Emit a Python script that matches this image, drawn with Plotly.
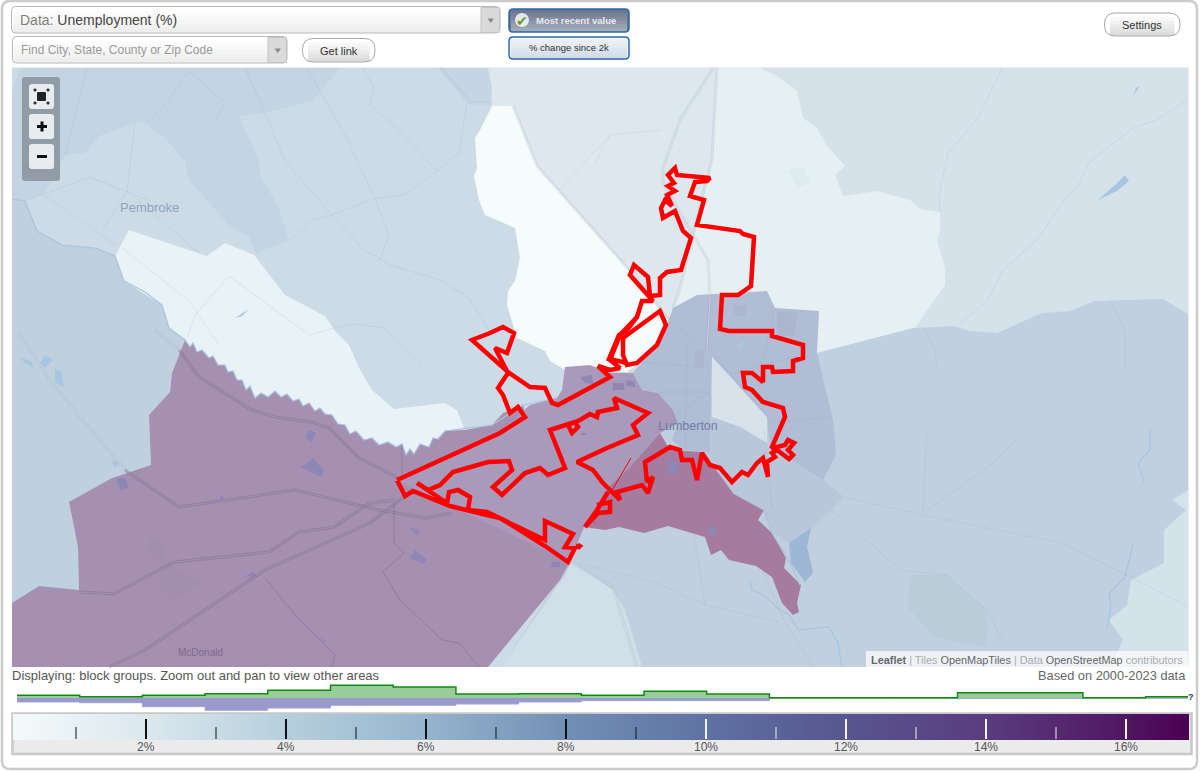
import numpy as np
import plotly.graph_objects as go

# page is laid out in screen pixels on the main axes, the histogram and
# colour ramp use a second pair of axes in percent units
PAGE_W = 1200
PAGE_H = 771
FONT = "Liberation Sans, Arial, sans-serif"

# ---------- histogram / legend data ----------
bin_edges_px = [17, 79.7, 142.4, 205.1, 267.8, 330.5, 393.2, 455.9, 518.6, 581.3, 644,
                706.7, 769.4, 832.1, 894.8, 957.5, 1020.2, 1082.9, 1145.6, 1188]
hist_edges = [(v - 6) / 70 for v in bin_edges_px]
hist_green = [2.7, 1.3, 2.7, 4.3, 7.7, 12.7, 11, 4, 4.3, 2.7, 6.7, 4, 0.3, 0.3, 0.3, 5.3, 5.3, 0.3, 1.3]
hist_purple = [4, 4.7, 8.7, 12.3, 10, 7.3, 7.3, 6, 4, 2.7, 2.7, 2.7, 0.3, 0.3, 0.3, 0.6, 0.6, 0.3, 0.3]
major_ticks = [2, 4, 6, 8, 10, 12, 14, 16]
minor_ticks = [1, 3, 5, 7, 9, 11, 13, 15]
tick_labels = ["2%", "4%", "6%", "8%", "10%", "12%", "14%", "16%"]
ramp_stops = [0.1, 2, 4, 6, 8, 10, 12, 14, 16, 16.9]
ramp_colors = ["#f4fafb", "#dbe8ee", "#b6cfdd", "#96b4cd", "#7190b5",
               "#5f72a3", "#57558f", "#5a3c7f", "#501660", "#4b0050"]

# ---------- map outlines in pixels ----------
map_base = [(12, 67.5), (1188.5, 67.5), (1188.5, 667), (12, 667)]
purple_edge = [(185, 340), (190, 347), (193, 343), (197, 352), (202, 350), (209, 358), (213, 356), (218, 365),
               (225, 365), (228, 372), (233, 371), (237, 380), (242, 380), (246, 390), (250, 386), (255, 398),
               (261, 393), (268, 397), (275, 391), (281, 397), (287, 394), (293, 401), (299, 399), (303, 406),
               (309, 403), (315, 411), (320, 408), (325, 414), (332, 415), (338, 424), (345, 425), (350, 434),
               (356, 431), (364, 440), (372, 438), (379, 445), (388, 442), (396, 447), (402, 444), (406, 455),
               (410, 449), (414, 454), (420, 444), (429, 447), (433, 438), (438, 439), (445, 431)]
top_left_dark = [(20, 68), (340, 68), (312, 101), (265, 113), (239, 116), (259, 161), (260, 175), (279, 208),
                 (289, 241), (255, 253), (250, 238), (229, 225), (212, 206), (189, 181), (185, 161), (165, 138),
                 (145, 123), (135, 123), (99, 136), (85, 153), (65, 155), (45, 193), (25, 201), (12, 201), (12, 91)]
top_strip = [(440, 68), (488, 68), (492, 88), (490, 101), (492, 103), (470, 103)]
left_low = [(12, 199), (25, 201), (37, 231), (62, 245), (95, 248), (115, 256), (124, 281), (162, 305), (169, 328),
            (185, 340), (172, 373), (170, 392), (149, 415), (151, 465), (112, 478), (69, 502), (78, 547),
            (79, 590), (39, 586), (12, 603)]
pale_left = [(129, 230), (199, 253), (207, 256), (225, 243), (254, 255), (285, 295), (325, 316), (335, 331),
             (349, 345), (359, 368), (372, 390), (394, 409), (445, 403), (457, 410), (464, 428)] + purple_edge[::-1] + [
             (169, 328), (162, 305), (124, 281), (115, 256)]
top_mid = [(488, 68), (717, 68), (713, 158), (693, 238), (680, 285), (670, 321), (630, 271), (537, 166),
           (513, 106), (492, 106), (492, 88)]
white_mid = [(492, 106), (513, 106), (537, 166), (630, 271), (670, 321), (660, 348), (637, 365), (627, 372),
             (587, 368), (565, 370), (550, 361), (545, 351), (517, 338), (507, 305), (508, 291), (515, 281),
             (520, 258), (515, 228), (485, 215), (479, 200), (474, 176), (477, 168), (475, 138), (480, 130)]
top_right = [(717, 68), (1188, 68), (1188, 320), (817, 360), (670, 321), (680, 285), (693, 238), (713, 158)]
pale_mid = [(717, 68), (760, 68), (777, 76), (797, 91), (803, 118), (817, 128), (827, 146), (845, 166), (835, 175),
            (843, 196), (877, 191), (910, 200), (920, 209), (940, 212), (940, 231), (937, 241), (945, 268),
            (945, 285), (915, 328), (817, 353), (697, 300), (670, 321), (680, 285), (693, 238), (713, 158)]
right_low = [(501, 667), (560, 577), (600, 480), (700, 400), (817, 353), (913, 328), (953, 326), (970, 331),
             (997, 333), (1042, 313), (1070, 311), (1095, 301), (1163, 299), (1188, 314), (1188, 667)]
corner_light = [(1188, 490), (1172, 500), (1186, 510), (1164, 530), (1164, 563), (1131, 580), (1127, 605),
                (1109, 620), (1123, 640), (1111, 667), (1188, 667)]
south_light = [(501, 667), (565, 575), (572, 562), (613, 590), (625, 610), (642, 667)]
purple_main = purple_edge + [(465, 430), (492, 425), (503, 413), (523, 405), (570, 562), (560, 580), (488, 667),
                             (12, 667), (12, 603), (39, 586), (79, 590), (78, 547), (69, 502), (112, 478), (151, 465),
                             (149, 415), (170, 392), (172, 373)]
purple_light = [(397, 482), (500, 432), (530, 405), (557, 398), (562, 390), (565, 367), (590, 365), (610, 373),
                (633, 373), (642, 390), (658, 393), (673, 410), (678, 423), (660, 433), (630, 467), (607, 490),
                (584, 527), (570, 562), (410, 487)]
magenta = [(584, 527), (609, 487), (630, 467), (660, 433), (670, 450), (703, 452), (733, 493), (764, 510),
           (758, 520), (772, 533), (786, 558), (784, 568), (801, 585), (797, 603), (799, 612), (793, 615),
           (782, 603), (772, 577), (756, 566), (729, 560), (721, 550), (711, 555), (705, 537), (668, 526),
           (644, 533), (619, 527), (605, 530)]
lumberton = [(697, 295), (767, 291), (775, 308), (819, 311), (817, 353), (833, 420), (836, 455), (823, 480),
             (770, 447), (767, 417), (712, 357), (710, 452), (683, 450), (672, 440), (678, 423), (673, 410),
             (658, 393), (642, 390), (633, 373), (650, 352), (667, 325), (673, 308)]
lumberton_window = [(712, 357), (767, 417), (767, 443), (740, 427), (712, 417)]
lumberton_south = [(712, 417), (740, 427), (767, 443), (770, 447), (823, 480), (844, 497), (813, 528), (789, 543),
                   (772, 533), (764, 510), (733, 493), (703, 452), (710, 452)]

lake_south = [(811, 528), (789, 543), (791, 563), (805, 582), (813, 573), (811, 563), (807, 547)]
lakes = [[(19, 357), (32, 362), (34, 368), (25, 363)], [(45, 355), (53, 360), (45, 368), (40, 363)],
         [(55, 368), (62, 373), (64, 387), (55, 382)], [(1098, 200), (1115, 185), (1125, 175), (1129, 181), (1117, 191)],
         [(1133, 96), (1140, 86), (1136, 88)], [(235, 318), (249, 309), (242, 316)],
         [(111, 460), (120, 463), (115, 468)], [(737, 345), (745, 340), (742, 350)]]
purple_spots = [[(309, 430), (316, 433), (312, 443), (305, 438)],
                [(314, 458), (317, 463), (324, 470), (322, 477), (312, 473), (301, 467)],
                [(116, 478), (125, 478), (129, 488), (120, 490)], [(409, 527), (420, 530), (417, 535)],
                [(415, 550), (427, 560), (424, 564), (410, 558)], [(220, 494), (225, 499), (220, 499)],
                [(245, 576), (253, 572), (257, 577)], [(320, 637), (327, 642), (324, 643)],
                [(668, 460), (678, 463), (678, 473), (668, 475)], [(709, 527), (715, 527), (715, 536), (709, 536)],
                [(756, 528), (763, 540), (760, 538)], [(580, 377), (592, 375), (593, 384), (585, 383)],
                [(613, 383), (623, 383), (625, 390), (613, 390)], [(627, 380), (635, 382), (635, 387), (626, 386)],
                [(553, 562), (560, 562), (560, 567), (550, 567)], [(580, 433), (587, 433), (583, 436)]]
patches = [([(149, 538), (162, 540), (165, 560), (185, 575), (204, 582), (175, 600), (159, 587), (159, 563), (147, 550)], "rgba(140,130,150,0.13)"),
           ([(911, 575), (946, 575), (984, 607), (989, 627), (984, 647), (935, 638), (907, 607)], "rgba(170,190,195,0.25)"),
           ([(788, 171), (803, 166), (810, 183), (797, 188)], "rgba(205,222,222,0.25)"),
           ([(777, 311), (797, 313), (795, 335), (778, 336)], "rgba(150,160,170,0.2)"),
           ([(733, 305), (747, 306), (745, 316), (735, 315)], "rgba(150,160,170,0.18)"),
           ([(695, 350), (705, 350), (703, 368), (695, 367)], "rgba(150,160,170,0.18)")]

water_lines = [[(12, 199), (25, 201), (37, 231), (62, 245), (95, 248), (115, 256), (124, 281), (145, 292), (162, 305),
                (169, 328)] + purple_edge + [(492, 425), (523, 405), (557, 398)],
               [(1150, 430), (1150, 450), (1138, 463), (1144, 482)],
               [(1133, 545), (1125, 577), (1109, 593), (1111, 607), (1107, 628)],
               [(750, 580), (752, 590), (764, 595), (776, 607), (789, 615), (799, 630), (817, 628), (829, 627),
                (838, 643), (842, 667)],
               [(733, 493), (764, 510), (772, 533), (789, 560), (800, 585)]]
faint_lines = [[(87, 68), (65, 155)], [(189, 71), (225, 103), (215, 121)], [(189, 71), (169, 100), (147, 123)],
               [(245, 68), (265, 113), (285, 161), (332, 215), (364, 250), (390, 265), (440, 280), (469, 298), (492, 335)],
               [(307, 68), (345, 135), (375, 198), (389, 235), (380, 260)],
               [(362, 68), (374, 86), (370, 105), (395, 126), (437, 171), (459, 153), (467, 103)],
               [(437, 171), (404, 195), (375, 198), (332, 215), (312, 220), (289, 241)],
               [(135, 123), (127, 191), (102, 231)], [(25, 201), (90, 177), (150, 201)], [(45, 195), (115, 245)],
               [(127, 191), (199, 253)], [(334, 328), (352, 324), (385, 328), (422, 365)],
               [(229, 276), (195, 315), (187, 338)], [(122, 248), (189, 301), (219, 345)],
               [(229, 276), (309, 335), (334, 328)], [(1002, 68), (978, 118), (948, 153), (939, 195), (940, 211)],
               [(1187, 100), (1157, 120), (1133, 128), (1090, 161), (1077, 188), (1067, 196), (1037, 240), (1003, 270),
                (987, 301), (957, 326)],
               [(924, 328), (935, 351), (937, 368)], [(1111, 301), (1125, 331), (1125, 368)],
               [(927, 430), (923, 513)], [(1019, 437), (993, 463), (923, 513)],
               [(831, 510), (901, 570), (946, 575), (987, 610), (1003, 643)],
               [(682, 457), (705, 605), (780, 622)], [(576, 563), (658, 583), (705, 605)],
               [(595, 163), (610, 135), (660, 130)], [(559, 190), (610, 135)],
               [(670, 323), (710, 350), (767, 417)], [(687, 342), (685, 450)], [(643, 362), (710, 368)],
               [(658, 392), (710, 392), (673, 417)], [(733, 373), (800, 355)], [(767, 423), (830, 417)],
               [(775, 307), (763, 360)], [(844, 497), (923, 515), (1062, 543), (1133, 578), (1188, 607)],
               [(764, 430), (772, 507), (750, 540), (784, 620), (813, 667)]]
purple_roads = [[(179, 350), (199, 377), (252, 410), (275, 417), (312, 422), (329, 428), (359, 458), (402, 480)],
                [(125, 470), (179, 507), (295, 490), (379, 510), (425, 518), (452, 513)],
                [(79, 592), (114, 594), (174, 562), (269, 552), (299, 532), (334, 527), (370, 503), (395, 500)],
                [(109, 667), (145, 650), (265, 570), (370, 523), (409, 493)]]
pale_roads = [[(19, 333), (55, 387), (125, 470)], [(155, 330), (179, 350)],
              [(570, 562), (613, 587), (637, 667)],
              [(717, 68), (712, 158), (680, 288), (673, 308)],
              [(713, 68), (680, 120), (663, 168), (663, 183), (693, 235), (708, 260), (710, 301), (707, 351)],
              [(513, 106), (537, 166), (630, 271), (670, 321)], [(440, 68), (470, 103), (492, 103)]]
dark_lines = [[(394, 503), (394, 543), (404, 553), (383, 572), (400, 600), (442, 640), (459, 643), (479, 667)],
              [(265, 578), (295, 615), (335, 655), (332, 667)], [(402, 445), (402, 480)]]

boundary_red = [(397, 480), (500, 433), (525, 417), (518, 407), (510, 413), (503, 395), (498, 388), (508, 373),
                (495, 348), (507, 353), (514, 333), (503, 327), (490, 333), (472, 340), (508, 372), (530, 387),
                (545, 388), (552, 403), (558, 405), (610, 377), (598, 366), (610, 370), (620, 368), (610, 360),
                (620, 335), (637, 317), (642, 301), (653, 301), (630, 275), (634, 265), (648, 277), (650, 296),
                (660, 295), (660, 278), (667, 272), (681, 270), (691, 238), (683, 231), (675, 211), (663, 218),
                (661, 208), (665, 200), (672, 206), (667, 195), (675, 191), (668, 186), (674, 183), (668, 175),
                (675, 168), (677, 175), (710, 178), (707, 181), (695, 182), (690, 196), (704, 200), (697, 225),
                (740, 231), (743, 234), (754, 237), (751, 286), (738, 295), (722, 295), (720, 329), (729, 331),
                (772, 331), (772, 336), (803, 345), (803, 358), (793, 361), (793, 371), (773, 372), (772, 367),
                (763, 367), (763, 382), (752, 373), (743, 373), (745, 387), (752, 390), (763, 402), (783, 408),
                (785, 417), (772, 447), (773, 448), (785, 445), (788, 440), (794, 443), (788, 450), (793, 455),
                (789, 459), (777, 450), (772, 453), (775, 457), (767, 462), (768, 477), (763, 458), (757, 463),
                (748, 475), (742, 472), (732, 482), (720, 468), (710, 465), (702, 453), (697, 480), (692, 460),
                (682, 460), (680, 450), (670, 447), (657, 455), (645, 462), (647, 482), (653, 477), (648, 493),
                (642, 485), (617, 492), (620, 500), (612, 492), (603, 483), (593, 470), (577, 462), (607, 448),
                (638, 435), (633, 425), (648, 413), (614, 398), (617, 408), (598, 412), (597, 417), (590, 414),
                (580, 420), (575, 422), (578, 427), (572, 433), (568, 425), (575, 422), (550, 430), (565, 468),
                (548, 475), (540, 468), (525, 473), (502, 495), (493, 487), (512, 470), (509, 461), (488, 462),
                (453, 472), (440, 485), (428, 490), (417, 483), (447, 503), (449, 492), (458, 490), (470, 497),
                (468, 510), (487, 512), (545, 540), (545, 521), (573, 534), (565, 547), (575, 548), (568, 562),
                (545, 546), (523, 532), (500, 518), (487, 515), (450, 506), (413, 491), (405, 496), (397, 480)]
boundary_oval = [(627, 335), (660, 311), (666, 325), (657, 345), (637, 363), (627, 365), (623, 355), (623, 338), (627, 335)]
boundary_leg = [(637, 317), (627, 330), (619, 335), (609, 359), (627, 363)]
boundary_mid = [(608, 492), (597, 510), (585, 527), (598, 513), (610, 512), (610, 502), (597, 505)]
boundary_dot = [(578, 544), (581, 546), (579, 548), (577, 547), (578, 544)]
boundary_spike = [(611, 492), (631, 458)]

fig = go.Figure()


def add_area(points, color):
    fig.add_trace(go.Scatter(x=[p[0] for p in points], y=[p[1] for p in points], mode="lines", fill="toself",
                             fillcolor=color, line=dict(width=0), hoverinfo="skip", showlegend=False))


def add_line(points, color, width):
    fig.add_trace(go.Scatter(x=[p[0] for p in points], y=[p[1] for p in points], mode="lines",
                             line=dict(color=color, width=width, simplify=False),
                             hoverinfo="skip", showlegend=False))


# back to front, later regions cover the earlier ones
for pts, col in [(map_base, "#cddbe6"), (top_left_dark, "#c3d4e2"), (top_strip, "#c5d5e3"), (left_low, "#bfd0df"),
                 (top_mid, "#dde8ee"), (top_right, "#d5e2ea"), (pale_mid, "#e6f0f3"), (right_low, "#c0d0e0"),
                 (corner_light, "#d4e2ea"), (south_light, "#d0e0e8"), (white_mid, "#f6fbfc"), (pale_left, "#e9f2f6"),
                 (lumberton, "#b1bcd5"), (lumberton_window, "#d8e2eb"), (lumberton_south, "#bac7da"),
                 (purple_main, "#a690b1"), (purple_light, "#a999bb"), (magenta, "#a57b9f")]:
    add_area(pts, col)

for pts, col in patches:
    add_area(pts, col)
for line in water_lines:
    add_line(line, "#a9c4de", 1.2)
for lake in lakes:
    add_area(lake, "#a9c6e0")
add_area(lake_south, "#9cb8d6")
for spot in purple_spots:
    add_area(spot, "#8e86b5")
for line in faint_lines:
    add_line(line, "rgba(125,145,170,0.17)", 0.8)
# roads are drawn as a wide dark stroke with a lighter one on top
for line in purple_roads:
    add_line(line, "rgba(100,85,120,0.3)", 3)
    add_line(line, "rgba(172,152,182,0.7)", 1)
for line in pale_roads:
    add_line(line, "rgba(120,135,160,0.16)", 3)
    add_line(line, "rgba(232,238,243,0.5)", 1)
for line in dark_lines:
    add_line(line, "rgba(90,70,110,0.35)", 0.8)

add_line(boundary_red, "#ff0000", 4.5)
add_line(boundary_oval, "#ff0000", 4.5)
add_line(boundary_leg, "#ff0000", 4.5)
add_line(boundary_mid, "#ff0000", 4.5)
add_line(boundary_dot, "#ff0000", 3)
add_line(boundary_spike, "#ff0000", 1)

# histogram above the ramp, heights are screen pixels around the baseline
fig.add_trace(go.Scatter(x=hist_edges, y=[-v for v in hist_purple + hist_purple[-1:]], xaxis="x2", yaxis="y2",
                         mode="lines", line=dict(shape="hv", color="#a3a3d3", width=1), fill="tozeroy",
                         fillcolor="#9999cc", hoverinfo="skip", showlegend=False))
fig.add_trace(go.Scatter(x=hist_edges, y=hist_green + hist_green[-1:], xaxis="x2", yaxis="y2", mode="lines",
                         line=dict(shape="hv", color="#118a11", width=1.5), fill="tozeroy", fillcolor="#99cc99",
                         hoverinfo="skip", showlegend=False))

# bricks reach half a cell past their centres, so these span 0.1-16.9 and y 714-740
ramp_x = np.linspace(0.2, 16.8, 84)
span = ramp_stops[-1] - ramp_stops[0]
fig.add_trace(go.Heatmap(x=ramp_x, y=[-22.5, -35.5], z=[ramp_x, ramp_x], zmin=ramp_stops[0], zmax=ramp_stops[-1],
                         zsmooth="best", xaxis="x2", yaxis="y2", showscale=False, hoverinfo="skip",
                         colorscale=[[(s - ramp_stops[0]) / span, c] for s, c in zip(ramp_stops, ramp_colors)]))

for v in minor_ticks:
    fig.add_trace(go.Scatter(x=[v, v], y=[-29, -41], xaxis="x2", yaxis="y2", mode="lines", hoverinfo="skip",
                             line=dict(color="#111111" if v < 10 else "#f2f2f2", width=1), showlegend=False))
for v in major_ticks:
    fig.add_trace(go.Scatter(x=[v, v], y=[-21, -41], xaxis="x2", yaxis="y2", mode="lines", hoverinfo="skip",
                             line=dict(color="#111111" if v < 10 else "#f2f2f2", width=2), showlegend=False))


def rounded(x0, y0, x1, y1, r):
    r = min(r, (y1 - y0) / 2)
    return (f"M{x0+r},{y0} L{x1-r},{y0} Q{x1},{y0} {x1},{y0+r} L{x1},{y1-r} Q{x1},{y1} {x1-r},{y1} "
            f"L{x0+r},{y1} Q{x0},{y1} {x0},{y1-r} L{x0},{y0+r} Q{x0},{y0} {x0+r},{y0} Z")


shapes = []


def box(x0, y0, x1, y1, r, fill, border=None, width=1, layer="above"):
    shapes.append(dict(type="path", path=rounded(x0, y0, x1, y1, r), fillcolor=fill, layer=layer, xref="x", yref="y",
                       line=dict(color=border or "rgba(0,0,0,0)", width=width)))


def seg(x0, y0, x1, y1, color, width):
    shapes.append(dict(type="line", x0=x0, y0=y0, x1=x1, y1=y1, xref="x", yref="y", layer="above",
                       line=dict(color=color, width=width)))


def gradient_box(x0, y0, x1, y1, r, top, bottom, border, width=1):
    # plain horizontal strips stand in for the css gradient, the outline hides their ends
    c0 = [int(top[i:i + 2], 16) for i in (1, 3, 5)]
    c1 = [int(bottom[i:i + 2], 16) for i in (1, 3, 5)]
    box(x0, y0, x1, y1, r, top)
    steps = 6
    inset = min(r, (y1 - y0) / 2) * 0.5
    for s in range(1, steps):
        t = s / (steps - 1)
        col = "rgb({},{},{})".format(*[round(a + (b - a) * t) for a, b in zip(c0, c1)])
        shapes.append(dict(type="rect", x0=x0 + inset, x1=x1 - inset, y0=y0 + (y1 - y0) * s / steps, y1=y1 - 0.5,
                           fillcolor=col, layer="above", line=dict(width=0)))
    box(x0, y0, x1, y1, r, "rgba(0,0,0,0)", border, width)


# outer frame
box(2, 1, 1197, 769, 8, "rgba(0,0,0,0)", "#cccccc", 2.5)
# selectors
gradient_box(11.5, 6.5, 500, 33, 4, "#ffffff", "#eeeeee", "#b8b8b8")
shapes.append(dict(type="rect", x0=481, y0=7.5, x1=499.5, y1=32.5, fillcolor="#dadada", layer="above",
                   line=dict(color="#c4c4c4", width=1)))
shapes.append(dict(type="path", path="M487.5,18.5 L494,18.5 L490.8,23 Z", fillcolor="#8a8a8a", layer="above",
                   line=dict(width=0)))
gradient_box(12.5, 36.5, 287, 63, 4, "#ffffff", "#eeeeee", "#b8b8b8")
shapes.append(dict(type="rect", x0=268, y0=37.5, x1=286.5, y1=62.5, fillcolor="#dadada", layer="above",
                   line=dict(color="#c4c4c4", width=1)))
shapes.append(dict(type="path", path="M274.5,48.5 L281,48.5 L277.8,53 Z", fillcolor="#8a8a8a", layer="above",
                   line=dict(width=0)))
gradient_box(302.5, 38.5, 375, 62, 11, "#ffffff", "#dcdcdc", "#a8a8a8")
gradient_box(1104.5, 13, 1180, 36, 11, "#ffffff", "#dcdcdc", "#a8a8a8")
gradient_box(509, 9, 629, 32, 4, "#6f778e", "#a3aab9", "#2a6aa8", 1.5)
gradient_box(509, 37, 629, 59, 4, "#eef2f6", "#d3dde8", "#2a6aa8", 1.5)
shapes.append(dict(type="circle", x0=515, y0=13, x1=529, y1=27, fillcolor="rgba(255,255,255,0.8)", layer="above",
                   line=dict(width=0)))
# map controls
box(22, 77, 60, 181, 3, "#919ca7")
box(29, 84, 54, 109, 3, "#e9ecef")
box(29, 114, 54, 139, 3, "#e9ecef")
box(29, 144, 54, 169, 3, "#e9ecef")
box(37, 92, 46, 101, 1, "#222222")
for cx, cy in [(35, 90), (48, 90), (35, 103), (48, 103)]:
    seg(cx - 1.5, cy, cx + 1.5, cy, "#222222", 1.5)
    seg(cx, cy - 1.5, cx, cy + 1.5, "#222222", 1.5)
seg(37, 126.5, 47, 126.5, "#111111", 3)
seg(42, 121.5, 42, 131.5, "#111111", 3)
seg(37, 156.5, 47, 156.5, "#111111", 3)
# attribution
shapes.append(dict(type="rect", x0=866, y0=651, x1=1188, y1=667, fillcolor="rgba(255,255,255,0.72)",
                   layer="above", line=dict(width=0)))
# legend frame
shapes.append(dict(type="rect", x0=12.5, y0=713.5, x1=1191.5, y1=754, fillcolor="#ebebeb", layer="below",
                   line=dict(color="#c8c8c8", width=2.5)))

annots = []


def label(x, y, text, size, color, anchor="center", xref="x", yref="y"):
    annots.append(dict(x=x, y=y, text=text, xref=xref, yref=yref, xanchor=anchor, yanchor="middle", showarrow=False,
                       font=dict(size=size, color=color, family=FONT)))


label(18, 20, '<span style="color:#808080">Data:</span> Unemployment (%)', 14, "#444444", "left")
label(19, 50, "Find City, State, County or Zip Code", 12, "#999999", "left")
label(338.5, 50.5, "Get link", 11, "#333333")
label(1142, 24.5, "Settings", 11, "#333333")
label(576, 20, "<b>Most recent value</b>", 9.5, "#e8eaf0")
label(569, 47.5, "% change since 2k", 9.5, "#333333")
label(522, 20.5, "✔", 14, "#5f9e2e")
label(149, 207, "Pembroke", 13, "#8ea3be")
label(688, 426, "Lumberton", 12.5, "#6e7ca6")
label(200, 652, "McDonald", 10, "#7d6a8b")
label(1185, 659.5, '<b style="color:#666666">Leaflet</b> <span style="color:#aaaaaa">| Tiles</span> '
      '<span style="color:#666666">OpenMapTiles</span> <span style="color:#aaaaaa">| Data</span> '
      '<span style="color:#666666">OpenStreetMap</span> <span style="color:#aaaaaa">contributors</span>',
      10.9, "#666666", "right")
label(10, 675, "Displaying: block groups. Zoom out and pan to view other areas", 13, "#555555", "left")
label(1188, 675.5, "Based on 2000-2023 data", 12.8, "#666666", "right")
label(1191, 697, "<b>?</b>", 9, "#333333")
for v, txt in zip(major_ticks, tick_labels):
    label(v, -49, txt, 12, "#555555", xref="x2", yref="y2")

hidden = dict(visible=False, showgrid=False, zeroline=False, fixedrange=True)
fig.update_layout(
    width=PAGE_W, height=PAGE_H, margin=dict(l=0, r=0, t=0, b=0), autosize=False,
    paper_bgcolor="white", plot_bgcolor="white", showlegend=False, font_family=FONT,
    xaxis=dict(range=[0, PAGE_W], **hidden),
    yaxis=dict(range=[PAGE_H, 0], **hidden),
    # 70 px per percent, 0% sits at x=6; y2 counts pixels up from the histogram baseline at y=698
    xaxis2=dict(range=[-6 / 70, (PAGE_W - 6) / 70], overlaying="x", **hidden),
    yaxis2=dict(range=[698 - PAGE_H, 698], overlaying="y", **hidden),
    shapes=shapes, annotations=annots,
)

fig.write_html("out.html", config=dict(displayModeBar=False), post_script="document.body.style.margin='0'")
